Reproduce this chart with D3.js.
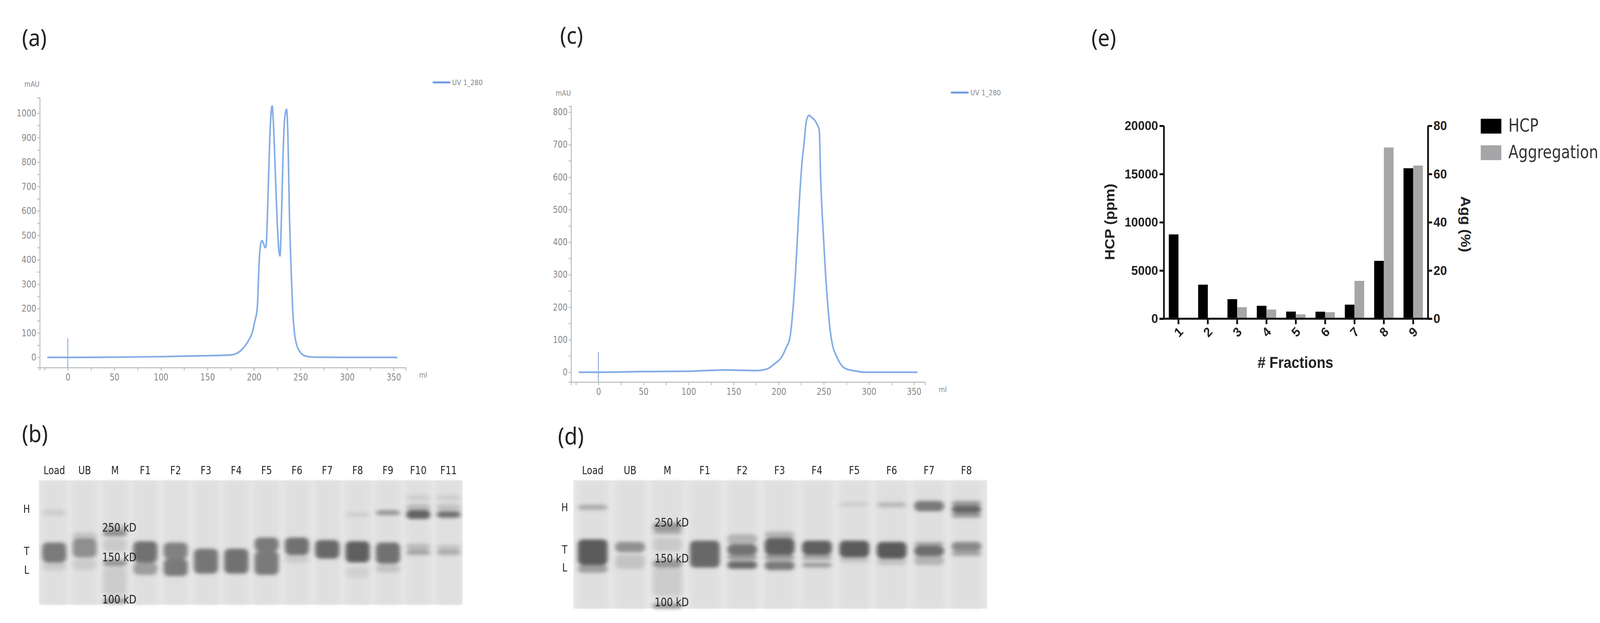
<!DOCTYPE html>
<html><head><meta charset="utf-8">
<script src="https://cdn.jsdelivr.net/npm/d3@7"></script>
<style>html,body{margin:0;padding:0;background:#fff;overflow:hidden}svg{display:block;width:100vw;height:100vh}</style>
</head><body>
<script>
// ---------- DATA ----------
const chromA = [[-22,0],[0,0],[50,1],[100,3],[150,7],[175,10],[180,14],[185,25],[190,45],[195,75],[198,100],[201,150],[203.5,200],[205.7,400],[207,460],[208.5,478],[210,470],[212,450],[213,455],[215,650],[217,900],[219.5,1030],[221,950],[223,750],[225,550],[227,430],[228,416],[229,500],[231,800],[233,980],[235,1016],[236.5,900],[238,600],[240,350],[241.5,200],[243.5,100],[246,50],[250,20],[256,5],[265,1],[300,0],[354,0]];
const chromC = [[-22,0],[0,0],[50,2],[100,3],[140,7],[175,5],[187,10],[195,25],[204,50],[209,80],[212,100],[216,200],[218.5,300],[220.5,400],[223,530],[226,650],[228,700],[230,760],[232,785],[234,790],[236,785],[240,775],[243,760],[245,745],[246.5,600],[248,500],[250,400],[252,300],[254.7,200],[257,130],[260,80],[264,50],[270,20],[275,10],[285,4],[296,0],[354,0]];
const injectA = 78, injectC = 62;
const mlTicks = [0,50,100,150,200,250,300,350];
const legendLabel = "UV 1_280";

const fractions = ["1","2","3","4","5","6","7","8","9"];
const hcp = [8740,3530,2030,1340,740,730,1460,6000,15600];
const agg = [0,0,4.8,3.8,1.8,2.7,15.7,71,63.5];
const hcpTicks = [0,5000,10000,15000,20000];
const aggTicks = [0,20,40,60,80];

const gelBLanes = ["Load","UB","M","F1","F2","F3","F4","F5","F6","F7","F8","F9","F10","F11"];
const gelBBands = [
 [0,24,28,0.12],[0,50,66,0.7],[0,66,72,0.15],
 [1,42,49,0.2],[1,47,62,0.55],[1,63,72,0.12],
 [2,36,40,0.25],[2,40,45,0.55],[2,47,57,0.15],[2,64,69,0.5],[2,70,92,0.12],[2,95,99,0.45],
 [3,49,66,0.75],[3,66,76,0.45],
 [4,50,63,0.65],[4,63,77,0.7],
 [5,55,75,0.72],
 [6,55,75,0.75],
 [7,46,57,0.7],[7,57,76,0.7],
 [8,46,60,0.75],[8,60,66,0.15],
 [9,48,63,0.82],
 [10,26,29,0.12],[10,49,66,0.88],[10,70,78,0.1],
 [11,24,28,0.5],[11,50,67,0.75],[11,68,74,0.2],
 [12,12,16,0.12],[12,19,25,0.25],[12,24,31,0.85],[12,51,56,0.25],[12,56,60,0.4],
 [13,12,16,0.12],[13,19,25,0.2],[13,25,30,0.75],[13,52,56,0.2],[13,56,60,0.35]
];
const gelBMarkers = [["250 kD",38],["150 kD",62],["100 kD",96]];

const gelDLanes = ["Load","UB","M","F1","F2","F3","F4","F5","F6","F7","F8"];
const gelDBands = [
 [0,19,23,0.35],[0,46,66,0.9],[0,66,72,0.45],
 [1,48,56,0.55],[1,58,69,0.18],
 [2,33,39,0.5],[2,39,42,0.35],[2,45,55,0.15],[2,62,68,0.5],[2,68,90,0.12],[2,96,100,0.5],
 [3,47,68,0.82],
 [4,42,50,0.3],[4,50,58,0.75],[4,58,62,0.5],[4,63,69,0.8],
 [5,40,45,0.3],[5,45,58,0.88],[5,58,62,0.5],[5,63,70,0.7],
 [6,47,58,0.88],[6,58,62,0.4],[6,64,68,0.45],
 [7,17,20,0.12],[7,47,60,0.9],[7,60,64,0.2],
 [8,17,21,0.25],[8,48,61,0.92],[8,61,66,0.2],
 [9,16,24,0.7],[9,48,51,0.4],[9,51,59,0.78],[9,59,66,0.3],
 [10,16,20,0.5],[10,20,25,0.85],[10,25,29,0.5],[10,48,55,0.6],[10,55,59,0.4]
];
const gelDMarkers = [["250 kD",33],["150 kD",61],["100 kD",95]];
const bandLetters = [["H",0],["T",1],["L",2]];

// ---------- DRAW ----------
const W=4508,H=1595;
const svg=d3.select("body").append("svg").attr("viewBox",`0 0 ${W} ${H}`).attr("preserveAspectRatio","none");
const defs=svg.append("defs");
defs.append("filter").attr("id","blur").attr("x","-40%").attr("y","-150%").attr("width","180%").attr("height","400%")
  .append("feGaussianBlur").attr("stdDeviation","6 4");
const narrow="'Liberation Sans Narrow','DejaVu Sans Condensed',sans-serif";

function panelLabel(t,x,y){svg.append("text").attr("x",x).attr("y",y).text(t)
  .attr("font-family","'Noto Sans',sans-serif").attr("font-size",60).attr("fill","#222");}
panelLabel("(a)",62,118);panelLabel("(c)",1578,112);panelLabel("(e)",3075,118);
panelLabel("(b)",62,1132);panelLabel("(d)",1572,1138);

function chrom(data,inject,o){
  const x=d3.scaleLinear().domain([0,350]).range([o.x0,o.x350]);
  const y=d3.scaleLinear().domain([0,o.ymax]).range([o.y0,o.yTop]);
  const g=svg.append("g");
  const xa=d3.scaleLinear().domain([x.invert(o.axisX),x.invert(o.axisXEnd)]).range([o.axisX,o.axisXEnd]);
  const gx=g.append("g").attr("transform",`translate(0,${o.axisYpos})`)
   .call(d3.axisBottom(xa).tickValues(d3.range(-25,351,25)).tickSize(8).tickFormat(d=>mlTicks.includes(d)?d:""));
  gx.selectAll("path,line").attr("stroke","#c4c4c4").attr("stroke-width",3);
  gx.selectAll("text").attr("font-family",narrow).attr("font-size",24).attr("fill","#888").attr("dy","0.9em");
  const ya=d3.scaleLinear().domain([y.invert(o.axisYpos),y.invert(o.yAxisTop)]).range([o.axisYpos,o.yAxisTop]);
  const gy=g.append("g").attr("transform",`translate(${o.axisX},0)`)
   .call(d3.axisLeft(ya).tickValues(d3.range(0,o.ymax+1,50)).tickSize(7).tickFormat(d=>d%100===0?d:""));
  gy.selectAll("path,line").attr("stroke","#c4c4c4").attr("stroke-width",3);
  gy.selectAll("text").attr("font-family",narrow).attr("font-size",24).attr("fill","#888");
  g.append("text").attr("x",o.axisX-22).attr("y",o.mauY).text("mAU").attr("font-family",narrow).attr("font-size",20).attr("fill","#888").attr("text-anchor","middle");
  g.append("text").attr("x",o.axisXEnd+38).attr("y",o.axisYpos+26).text("ml").attr("font-family",narrow).attr("font-size",20).attr("fill","#888");
  g.append("line").attr("x1",x(0)).attr("x2",x(0)).attr("y1",y(inject)).attr("y2",o.axisYpos).attr("stroke","#86aee6").attr("stroke-width",2.5);
  g.append("path").datum(data).attr("d",d3.line().x(d=>x(d[0])).y(d=>y(d[1])).curve(d3.curveMonotoneX))
   .attr("fill","none").attr("stroke","#86aee6").attr("stroke-width",4.5);
  g.append("line").attr("x1",o.legX).attr("x2",o.legX+50).attr("y1",o.legY).attr("y2",o.legY).attr("stroke","#6f9be0").attr("stroke-width",5);
  g.append("text").attr("x",o.legX+55).attr("y",o.legY+7).text(legendLabel).attr("font-family",narrow).attr("font-size",20).attr("fill","#888");
}
chrom(chromA,injectA,{x0:191,x350:1109,ymax:1000,y0:915,yTop:290,axisX:112,axisXEnd:1143,axisYpos:941,yAxisTop:250,mauY:222,legX:1219,legY:211});
chrom(chromC,injectC,{x0:1686,x350:2575,ymax:800,y0:953,yTop:287,axisX:1609,axisXEnd:2607,axisYpos:978,yAxisTop:272,mauY:245,legX:2679,legY:237});

function gel(lanes,bands,markers,o){
  const g=svg.append("g");
  const x=d3.scalePoint().domain(d3.range(lanes.length)).range([o.l0,o.l1]);
  const y=d3.scaleLinear().domain([0,100]).range([o.top,o.bottom]);
  g.append("rect").attr("x",o.gx0).attr("y",o.top).attr("width",o.gx1-o.gx0).attr("height",o.bottom-o.top).attr("fill","#e6e6e6");
  g.selectAll(".lane").data(lanes).join("rect").attr("x",(d,i)=>x(i)-o.lw/2).attr("y",o.top)
    .attr("width",o.lw).attr("height",o.bottom-o.top).attr("fill","#dcdcdc").attr("opacity",0.6).attr("filter","url(#blur)");
  const bg=g.append("g").attr("filter","url(#blur)");
  bg.selectAll("rect").data(bands).join("rect")
    .attr("x",d=>x(d[0])-o.lw/2).attr("width",o.lw)
    .attr("y",d=>y(d[1])).attr("height",d=>y(d[2])-y(d[1]))
    .attr("rx",14).attr("fill","#4e4e4e").attr("opacity",d=>d[3]);
  g.selectAll(".ll").data(lanes).join("text").attr("x",(d,i)=>x(i)).attr("y",o.top-16).text(d=>d)
    .attr("text-anchor","middle").attr("font-family",narrow).attr("font-size",28).attr("fill","#222");
  g.selectAll(".mk").data(markers).join("text").attr("x",x(2)+12).attr("y",d=>y(d[1])+10).text(d=>d[0])
    .attr("text-anchor","middle").attr("font-family",narrow).attr("font-size",30).attr("fill","#222");
  g.selectAll(".bl").data(bandLetters).join("text").attr("x",o.lettersX).attr("y",d=>y(o.letterPos[d[1]])+10).text(d=>d[0])
    .attr("text-anchor","middle").attr("font-family",narrow).attr("font-size",28).attr("fill","#222");
}
gel(gelBLanes,gelBBands,gelBMarkers,{l0:153,l1:1264,top:1230,bottom:1548,gx0:110,gx1:1303,lw:68,lettersX:75,letterPos:[23,57,72]});
gel(gelDLanes,gelDBands,gelDMarkers,{l0:1670,l1:2723,top:1230,bottom:1558,gx0:1616,gx1:2781,lw:84,lettersX:1591,letterPos:[21,54,68]});

(function(){
  const g=svg.append("g");
  const L=3279,R=4023,y0=816,yT=322;
  const x=d3.scaleBand().domain(fractions).range([L,R]);
  const yl=d3.scaleLinear().domain([0,20000]).range([y0,yT]);
  const yr=d3.scaleLinear().domain([0,80]).range([y0,yT]);
  const bw=x.bandwidth()*0.33;
  g.selectAll(".h").data(fractions).join("rect").attr("x",d=>x(d)+x.bandwidth()/2-bw).attr("width",bw)
   .attr("y",(d,i)=>yl(hcp[i])).attr("height",(d,i)=>y0-yl(hcp[i])).attr("fill","#000");
  g.selectAll(".a").data(fractions).join("rect").attr("x",d=>x(d)+x.bandwidth()/2).attr("width",bw)
   .attr("y",(d,i)=>yr(agg[i])).attr("height",(d,i)=>y0-yr(agg[i])).attr("fill","#a6a6a8");
  const font="'Liberation Sans',Arial,sans-serif";
  const gl=g.append("g").attr("transform",`translate(${L},0)`).call(d3.axisLeft(yl).tickValues(hcpTicks).tickFormat(d3.format("d")).tickSize(12).tickSizeOuter(0));
  const gr=g.append("g").attr("transform",`translate(${R},0)`).call(d3.axisRight(yr).tickValues(aggTicks).tickFormat(d3.format("d")).tickSize(12).tickSizeOuter(0));
  const gb=g.append("g").attr("transform",`translate(0,${y0})`).call(d3.axisBottom(x).tickSize(14).tickSizeOuter(0));
  gb.select(".domain").attr("d",`M${L-12},0H${R+12}`);
  [gl,gr,gb].forEach(a=>{a.selectAll("path,line").attr("stroke","#111").attr("stroke-width",5);
    a.selectAll("text").attr("font-family",font).attr("font-size",34).attr("fill","#222").attr("font-weight","bold");});
  gl.selectAll("text").attr("x",-16);gr.selectAll("text").attr("x",16);
  gb.selectAll("text").attr("transform","translate(0,34) rotate(-45)").attr("dy","0.35em").attr("y",0).attr("text-anchor","middle");
  g.append("text").attr("transform",`translate(3140,568) rotate(-90)`).attr("text-anchor","middle").text("HCP (ppm)")
   .attr("font-family",font).attr("font-weight","bold").attr("font-size",38).attr("fill","#222");
  g.append("text").attr("transform",`translate(4116,574) rotate(90)`).attr("text-anchor","middle").text("Agg (%)")
   .attr("font-family",font).attr("font-weight","bold").attr("font-size",38).attr("fill","#222");
  g.append("text").attr("x",3650).attr("y",942).attr("text-anchor","middle").text("# Fractions")
   .attr("font-family",font).attr("font-weight","bold").attr("font-size",40).attr("fill","#222");
  const leg=[["HCP","#000"],["Aggregation","#a6a6a8"]];
  g.selectAll(".lg").data(leg).join("rect").attr("x",4172).attr("y",(d,i)=>304+i*68).attr("width",58).attr("height",38).attr("fill",d=>d[1]);
  g.selectAll(".lt").data(leg).join("text").attr("x",4250).attr("y",(d,i)=>337+i*68).text(d=>d[0])
   .attr("font-family",narrow).attr("font-size",46).attr("fill","#333");
})();
</script>
</body></html>
